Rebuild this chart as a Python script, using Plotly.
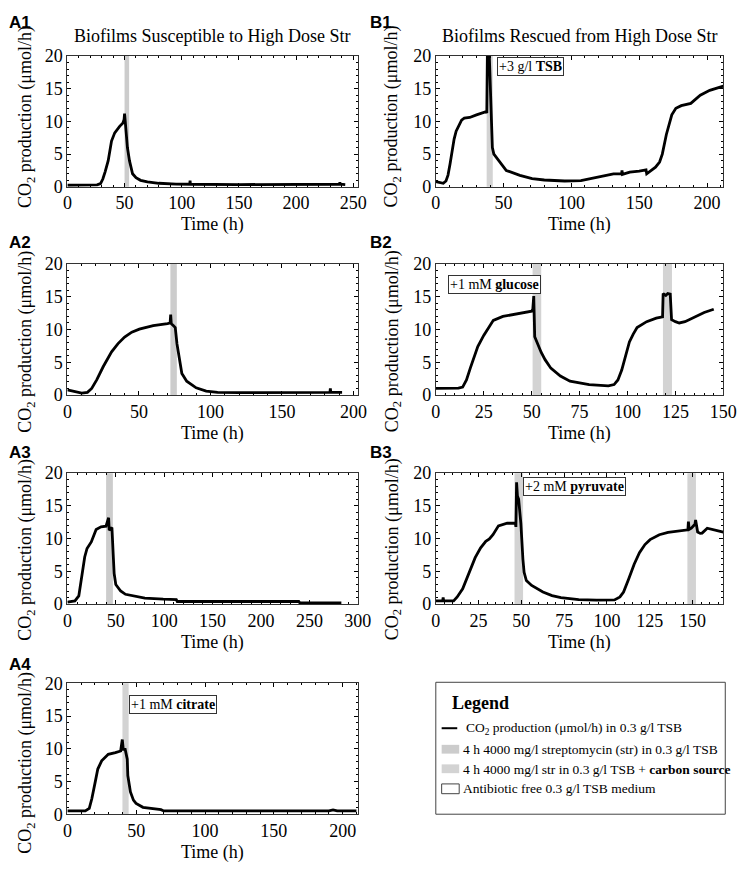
import plotly.graph_objects as go
from plotly.subplots import make_subplots

W, H = 750, 876
SERIF = "Liberation Serif, Times New Roman, serif"
SANS = "Liberation Sans, Arial, sans-serif"
BAND = "#cccccc"      # streptomycin only
BAND_C = "#d3d3d3"    # streptomycin + carbon source

# ---- data (time in h, CO2 production in umol/h) ----
a1_t = [0, 15, 26, 29, 31, 33, 35.7, 38.6, 41.4, 45.7, 48.6, 49.6, 50.0, 50.6, 51.5, 52.5,
        54.3, 57, 60, 64, 70, 80, 95, 107, 107.3, 107.6, 150, 200, 238, 238.3, 238.6, 243]
a1_y = [0.25, 0.25, 0.3, 0.5, 1.2, 2.3, 4.0, 7.0, 8.25, 9.25, 9.75, 10.3, 11.2, 10.0, 8.2, 6.0,
        4.0, 2.0, 1.4, 1.0, 0.75, 0.55, 0.42, 0.4, 0.95, 0.4, 0.35, 0.4, 0.4, 0.7, 0.4, 0.35]
a1_bands = [(50, 54)]

a2_t = [0, 5, 10, 14, 17, 20.6, 25.1, 30.9, 35.4, 40, 45, 50.3, 60, 70, 71.8, 72.2, 72.6, 74,
        75.4, 76.6, 78.2, 80, 83.4, 90, 97, 105, 120, 150, 183.5, 183.8, 184.1, 192]
a2_y = [0.8, 0.5, 0.3, 0.4, 1.0, 2.35, 4.35, 6.6, 7.85, 8.85, 9.6, 10.05, 10.6, 10.9, 11.0, 12.3,
        10.9, 10.6, 10.3, 7.8, 5.3, 3.3, 2.1, 1.1, 0.6, 0.4, 0.35, 0.4, 0.4, 1.0, 0.4, 0.4]
a2_bands = [(72, 76.5)]

a3_t = [0, 7.8, 11.8, 14.5, 17.9, 20.3, 24.7, 29.7, 34.8, 39.9, 42.6, 43.2, 46, 47.3, 48.3, 50,
        55, 60, 70, 80, 99, 112.5, 113.5, 150, 200, 239, 240, 260, 283]
a3_y = [0.3, 0.5, 1.25, 3.7, 7.2, 8.5, 9.5, 11.4, 11.8, 11.9, 13.2, 11.3, 11.7, 7.7, 4.7, 3.0,
        2.0, 1.5, 1.2, 0.9, 0.75, 0.7, 0.4, 0.4, 0.4, 0.4, 0.2, 0.2, 0.2]
a3_bands = [(40, 47)]

a4_t = [0, 13, 15.9, 17.8, 20.2, 22.1, 24.9, 28, 29.7, 34.9, 38.7, 39.9, 40.6, 42, 43.5, 43.9,
        45.8, 48, 49.9, 54.9, 64.8, 68, 70, 120, 190, 193, 196, 210]
a4_y = [0.5, 0.5, 0.9, 2.4, 4.9, 6.9, 8.15, 8.9, 9.15, 9.4, 9.65, 11.4, 9.9, 9.9, 8.4, 5.9,
        3.4, 2.15, 1.65, 1.05, 0.75, 0.7, 0.5, 0.5, 0.5, 0.65, 0.5, 0.5]
a4_bands = [(40, 44.5)]

b1_t = [0, 3, 5.5, 7.5, 9, 10.5, 12, 13.5, 15, 17, 19, 21, 25, 30, 35, 37, 37.6, 38.2, 39.3,
        40.5, 41.7, 42.8, 46.4, 52, 62, 71, 80, 95, 107, 119, 131, 137, 137.3, 137.6, 143, 150,
        155, 155.5, 162, 165, 167, 170, 174, 177, 181, 188, 195, 202, 212]
b1_y = [0.8, 0.6, 0.55, 0.9, 1.8, 3.5, 5.5, 7.3, 8.5, 9.5, 10.2, 10.5, 10.6, 11.0, 11.3, 11.5,
        11.3, 24, 21, 13, 6.0, 5.0, 4.0, 2.5, 1.75, 1.25, 1.05, 0.9, 0.95, 1.5, 2.0, 2.0, 2.5,
        1.9, 2.25, 2.4, 2.6, 2.0, 3.0, 3.8, 5.0, 8.0, 11.0, 12.0, 12.4, 12.75, 14.0, 14.75, 15.4]
b1_bands = [(37.5, 42)]

b2_t = [0, 5, 11.8, 14, 16, 18, 20, 21.9, 25, 28, 30, 35, 40, 45, 50, 50.6, 51.1, 51.6, 53, 55,
        57, 60, 65, 70, 80, 90, 93, 95, 97, 99, 101, 103, 105, 110, 115, 118.3, 118.6, 120, 121,
        122.3, 123, 125, 127, 130, 135, 140, 145]
b2_y = [1.0, 1.0, 1.05, 1.2, 2.3, 4.1, 5.9, 7.4, 9.1, 10.6, 11.4, 12.0, 12.25, 12.5, 12.8, 13.1,
        15.1, 8.9, 7.9, 6.5, 5.4, 4.1, 2.9, 2.1, 1.6, 1.4, 1.6, 2.3, 3.8, 5.8, 8.1, 9.3, 10.3,
        11.2, 11.75, 11.95, 15.5, 15.2, 15.5, 15.4, 11.5, 11.2, 11.0, 11.2, 11.85, 12.6, 13.1]
b2_bands = [(50.5, 55), (118.5, 123.2)]

b3_t = [0, 4, 4.3, 4.6, 10.4, 12.5, 15.7, 18.8, 20.9, 23, 26.2, 29.2, 31.3, 33.4, 36.6, 41.7,
        46.5, 46.8, 47.2, 47.7, 48.4, 49.7, 50.9, 51.6, 52.9, 56, 62.6, 67.9, 73.1, 83.5, 93.9,
        104.4, 107.6, 109.7, 112.7, 115.9, 119, 122.2, 125.2, 130.6, 135.7, 141, 146.1, 147.3,
        147.6, 148, 149.3, 151.4, 151.8, 153, 154.5, 155.6, 158.6, 161.9, 168]
b3_y = [0.5, 0.5, 1.0, 0.5, 0.5, 1.1, 2.35, 4.35, 5.6, 7.1, 8.6, 9.6, 9.95, 10.6, 11.95, 12.35,
        12.35, 11.8, 18.6, 16.5, 16.0, 12.35, 6.85, 4.85, 3.6, 2.85, 1.85, 1.3, 1.0, 0.7, 0.6,
        0.65, 1.1, 1.85, 3.85, 6.1, 7.85, 9.1, 9.85, 10.6, 10.95, 11.1, 11.25, 11.35,
        12.6, 11.4, 11.6, 12.2, 12.85, 11.0, 10.8, 10.85, 11.6, 11.35, 11.0]
b3_bands = [(46, 51), (147, 152)]

panels = [
    dict(row=1, col=1, tag="A1", t=a1_t, y=a1_y, bands=a1_bands, band=BAND, xmax=254, dt=50, mdt=10, note=None),
    dict(row=2, col=1, tag="A2", t=a2_t, y=a2_y, bands=a2_bands, band=BAND, xmax=203, dt=50, mdt=10, note=None),
    dict(row=3, col=1, tag="A3", t=a3_t, y=a3_y, bands=a3_bands, band=BAND, xmax=300, dt=50, mdt=10, note=None),
    dict(row=4, col=1, tag="A4", t=a4_t, y=a4_y, bands=a4_bands, band=BAND_C, xmax=211, dt=50, mdt=10,
         note=(45, 16.8, "+1 mM <b>citrate</b>")),
    dict(row=1, col=2, tag="B1", t=b1_t, y=b1_y, bands=b1_bands, band=BAND_C, xmax=212, dt=50, mdt=10,
         note=(45, 18.4, "+3 g/l <b>TSB</b>")),
    dict(row=2, col=2, tag="B2", t=b2_t, y=b2_y, bands=b2_bands, band=BAND_C, xmax=150, dt=25, mdt=5,
         note=(6.2, 16.9, "+1 mM <b>glucose</b>")),
    dict(row=3, col=2, tag="B3", t=b3_t, y=b3_y, bands=b3_bands, band=BAND_C, xmax=168, dt=25, mdt=5,
         note=(51.2, 18.0, "+2 mM <b>pyruvate</b>")),
]

# pixel layout
COL_X = {1: (64, 362), 2: (442, 737)}
ROW_Y = {1: (47, 181), 2: (260, 394), 3: (474, 608), 4: (689, 823)}
TAG_Y = {1: 13, 2: 238, 3: 453, 4: 670}
TAG_X = {1: 2, 2: 372}
YTITLE_X = {1: 22, 2: 398}
YTITLE_SHIFT = {1: -5, 2: 12, 3: 11, 4: 14}


def fx(p):
    return p / W


def fy(p):
    return 1 - p / H


fig = make_subplots(rows=4, cols=2, specs=[[{}, {}], [{}, {}], [{}, {}], [{}, None]])

tickfont = dict(family=SERIF, size=18, color="black")
for p in panels:
    r, c = p["row"], p["col"]
    x0, x1 = COL_X[c]
    y0, y1 = ROW_Y[r]
    fig.add_trace(go.Scatter(x=p["t"], y=p["y"], mode="lines",
                             line=dict(color="black", width=2.8), showlegend=False), row=r, col=c)
    for b0, b1 in p["bands"]:
        fig.add_vrect(x0=b0, x1=b1, fillcolor=p["band"], opacity=1, line_width=0, layer="below",
                      exclude_empty_subplots=False, row=r, col=c)
    fig.update_xaxes(domain=[fx(x0), fx(x1)], range=[0, p["xmax"]], tickmode="linear", tick0=0,
                     dtick=p["dt"], ticks="inside", ticklen=4, tickcolor="black", showline=True,
                     linecolor="#333", linewidth=1, mirror="ticks", showgrid=False, zeroline=False,
                     minor=dict(ticks="inside", ticklen=2, dtick=p["mdt"], tickcolor="black"),
                     ticklabeloverflow="allow", tickfont=tickfont, row=r, col=c)
    fig.update_yaxes(domain=[fy(y1), fy(y0)], range=[0, 20], tickmode="linear", tick0=0, dtick=5,
                     ticks="inside", ticklen=4, tickcolor="black", showline=True, linecolor="#333",
                     linewidth=1, mirror="ticks", showgrid=False, zeroline=False,
                     minor=dict(ticks="inside", ticklen=2, dtick=1, tickcolor="black"),
                     ticklabeloverflow="allow", tickfont=tickfont, row=r, col=c)
    if p["note"]:
        nx, ny, txt = p["note"]
        fig.add_annotation(x=nx, y=ny, text=txt, showarrow=False, xanchor="left", yanchor="middle",
                           bgcolor="white", bordercolor="#333", borderwidth=1, borderpad=1,
                           font=dict(family=SERIF, size=14, color="black"), row=r, col=c)
    # panel tag, axis titles
    fig.add_annotation(x=fx(TAG_X[c]), y=fy(TAG_Y[r]), xref="paper", yref="paper", text=f"<b>{p['tag']}</b>",
                       showarrow=False, xanchor="left", yanchor="middle",
                       font=dict(family=SANS, size=17, color="black"))
    fig.add_annotation(x=fx((x0 + x1) / 2), y=fy(y1 + 39), xref="paper", yref="paper", text="Time (h)",
                       showarrow=False, xanchor="center", yanchor="middle",
                       font=dict(family=SERIF, size=18, color="black"))
    fig.add_annotation(x=fx(YTITLE_X[c]), y=fy((y0 + y1) / 2 + YTITLE_SHIFT[r]), xref="paper", yref="paper",
                       text="CO<sub>2</sub> production (μmol/h)", textangle=-90, showarrow=False,
                       xanchor="center", yanchor="middle", font=dict(family=SERIF, size=18, color="black"))

# column titles
for c, txt in [(1, "Biofilms Susceptible to High Dose Str"), (2, "Biofilms Rescued from High Dose Str")]:
    fig.add_annotation(x=fx(sum(COL_X[c]) / 2), y=fy(27), xref="paper", yref="paper", text=txt,
                       showarrow=False, xanchor="center", yanchor="middle",
                       font=dict(family=SERIF, size=18, color="black"))


# legend box (drawn by hand)
def rect(x0, y0, x1, y1, **kw):
    fig.add_shape(type="rect", xref="paper", yref="paper", x0=fx(x0), x1=fx(x1), y0=fy(y1), y1=fy(y0), **kw)


def label(x, y, txt, size=13.5):
    fig.add_annotation(x=fx(x), y=fy(y), xref="paper", yref="paper", text=txt, showarrow=False,
                       xanchor="left", yanchor="middle", font=dict(family=SERIF, size=size, color="black"))


rect(442, 688, 739, 823, line=dict(color="#444", width=1), fillcolor="white")
label(457, 709, "<b>Legend</b>", size=18)
fig.add_shape(type="line", xref="paper", yref="paper", x0=fx(448), x1=fx(464), y0=fy(735), y1=fy(735),
              line=dict(color="black", width=2))
label(471, 735, "CO<sub>2</sub> production (μmol/h) in 0.3 g/l TSB")
rect(448, 752, 466, 761, line=dict(width=0), fillcolor=BAND)
label(468, 756.5, "4 h 4000 mg/l streptomycin (str) in 0.3 g/l TSB")
rect(448, 772, 466, 781, line=dict(width=0), fillcolor=BAND_C)
label(468, 777, "4 h 4000 mg/l str in 0.3 g/l TSB + <b>carbon source</b>")
rect(448, 792, 466, 802, line=dict(color="#444", width=1), fillcolor="white")
label(468, 797, "Antibiotic free 0.3 g/l TSB medium")

fig.update_layout(width=W, height=H, margin=dict(l=0, r=0, t=0, b=0), showlegend=False,
                  paper_bgcolor="white", plot_bgcolor="white",
                  font=dict(family=SERIF, color="black"))

# drop the browser's default 8px body margin so the figure sits at the page origin
fig.write_html("out.html", config={"displayModeBar": False},
               post_script="document.body.style.margin='0';")
